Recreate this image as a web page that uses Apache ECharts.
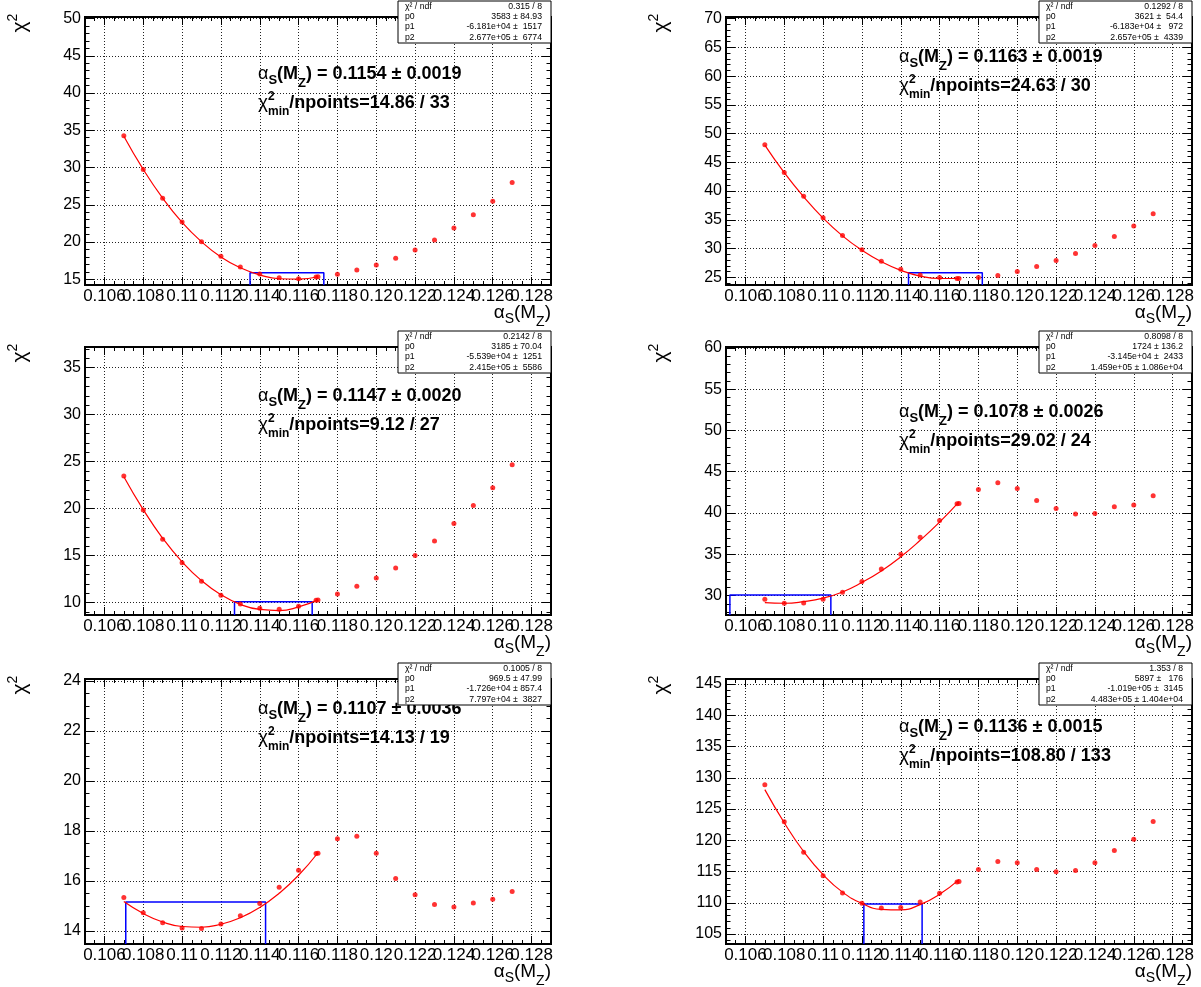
<!DOCTYPE html>
<html>
<head>
<meta charset="utf-8">
<title>chi2 scans vs alpha_s(M_Z)</title>
<script src="https://cdn.jsdelivr.net/npm/echarts@6.0.0/dist/echarts.min.js"></script>
<style>
  body { margin: 0; background: #fff; }
  #main { width: 1201px; height: 987px; }
</style>
</head>
<body>
<div id="main"></div>
<script>
// alpha_s(M_Z) scan points, two of them sit at 0.117
var alphaS = [0.107, 0.108, 0.109, 0.110, 0.111, 0.112, 0.113, 0.114, 0.115, 0.116, 0.1169,
  0.117, 0.118, 0.119, 0.120, 0.121, 0.122, 0.123, 0.124, 0.125, 0.126, 0.127];

// chi2 of each scan point, one array per pad
var chi2A = [34.27, 29.74, 25.89, 22.71, 20.06, 18.09, 16.66, 15.72, 15.22, 15.09, 15.31,
  15.36, 15.67, 16.25, 16.93, 17.82, 18.94, 20.29, 21.90, 23.65, 25.48, 27.99];
var chi2B = [48.08, 43.24, 39.10, 35.37, 32.28, 29.78, 27.80, 26.40, 25.41, 24.94, 24.77,
  24.77, 24.94, 25.29, 25.99, 26.86, 27.91, 29.14, 30.54, 32.11, 33.92, 36.07];
var chi2C = [23.49, 19.87, 16.75, 14.26, 12.27, 10.78, 9.86, 9.40, 9.29, 9.61, 10.25,
  10.28, 10.92, 11.74, 12.63, 13.69, 15.01, 16.57, 18.42, 20.33, 22.22, 24.67];
var chi2D = [29.56, 29.07, 29.11, 29.56, 30.40, 31.70, 33.23, 35.01, 37.07, 39.09, 41.12,
  41.16, 42.85, 43.66, 42.97, 41.52, 40.55, 39.90, 39.94, 40.75, 40.99, 42.09];
var chi2E = [15.33, 14.72, 14.32, 14.11, 14.09, 14.27, 14.60, 15.09, 15.74, 16.42, 17.09,
  17.10, 17.68, 17.78, 17.10, 16.09, 15.44, 15.05, 14.95, 15.11, 15.26, 15.57];
var chi2F = [128.89, 122.96, 118.08, 114.32, 111.57, 109.93, 109.18, 109.24, 110.14, 111.51, 113.32,
  113.42, 115.33, 116.60, 116.39, 115.33, 114.96, 115.17, 116.39, 118.35, 120.15, 123.01];

// parabola fits
var fitXA = [0.107, 0.108, 0.109, 0.110, 0.111, 0.112, 0.113, 0.114, 0.115, 0.116, 0.117];
var fitYA = [34.2, 29.75, 25.9, 22.65, 20.05, 18.0, 16.55, 15.6, 15.08, 15.02, 15.35];
var fitXB = [0.107, 0.108, 0.109, 0.110, 0.111, 0.112, 0.113, 0.114, 0.115, 0.116, 0.117];
var fitYB = [48.0, 43.2, 39.0, 35.3, 32.2, 29.7, 27.7, 26.2, 25.2, 24.78, 24.82];
var fitXC = [0.107, 0.108, 0.109, 0.110, 0.111, 0.112, 0.113, 0.114, 0.115, 0.116, 0.117];
var fitYC = [23.4, 19.9, 16.85, 14.35, 12.35, 10.85, 9.82, 9.28, 9.16, 9.55, 10.3];
var fitXD = [0.107, 0.108, 0.109, 0.110, 0.111, 0.112, 0.113, 0.114, 0.115, 0.116, 0.117];
var fitYD = [29.15, 29.08, 29.28, 29.7, 30.45, 31.6, 33.0, 34.7, 36.7, 38.9, 41.35];
var fitXE = [0.107, 0.108, 0.109, 0.110, 0.111, 0.112, 0.113, 0.114, 0.115, 0.116, 0.117];
var fitYE = [15.17, 14.69, 14.35, 14.17, 14.14, 14.26, 14.52, 14.93, 15.5, 16.22, 17.12];
var fitXF = [0.107, 0.108, 0.109, 0.110, 0.111, 0.112, 0.113, 0.114, 0.115, 0.116, 0.117];
var fitYF = [128.1, 122.8, 118.2, 114.5, 111.7, 109.9, 108.95, 108.87, 109.7, 111.35, 113.7];

// blue 1-sigma boxes (chi2min + 1)
var sigmaLo = [0.1135, 0.1144, 0.1127, 0.1052, 0.1071, 0.1121];
var sigmaHi = [0.1173, 0.1182, 0.1167, 0.1104, 0.1143, 0.1151];
var sigmaTop = [15.9, 25.8, 10.1, 30.08, 15.15, 109.8];

var resultText = ['0.1154 ± 0.0019', '0.1163 ± 0.0019', '0.1147 ± 0.0020',
  '0.1078 ± 0.0026', '0.1107 ± 0.0036', '0.1136 ± 0.0015'];
var npointsText = ['14.86 / 33', '24.63 / 30', '9.12 / 27', '29.02 / 24', '14.13 / 19', '108.80 / 133'];

var statNames = ['χ² / ndf', 'p0', 'p1', 'p2'];
var statValues = [
  ['0.315 / 8', '3583 ± 84.93', '-6.181e+04 ±  1517', '2.677e+05 ±  6774'],
  ['0.1292 / 8', '3621 ±  54.4', '-6.183e+04 ±   972', '2.657e+05 ±  4339'],
  ['0.2142 / 8', '3185 ± 70.04', '-5.539e+04 ±  1251', '2.415e+05 ±  5586'],
  ['0.8098 / 8', '1724 ± 136.2', '-3.145e+04 ±  2433', '1.459e+05 ± 1.086e+04'],
  ['0.1005 / 8', '969.5 ± 47.99', '-1.726e+04 ± 857.4', '7.797e+04 ±  3827'],
  ['1.353 / 8', '5897 ±   176', '-1.019e+05 ±  3145', '4.483e+05 ± 1.404e+04']
];

var xRange = [0.105, 0.129];
var yRanges = [[14.24, 50.2], [23.65, 70.3], [8.69, 37.2], [27.66, 60.1], [13.47, 24.07], [103.4, 145.8]];
var yStep = [5, 5, 5, 5, 2, 5];

var scans = [chi2A, chi2B, chi2C, chi2D, chi2E, chi2F];
var fitXs = [fitXA, fitXB, fitXC, fitXD, fitXE, fitXF];
var fitYs = [fitYA, fitYB, fitYC, fitYD, fitYE, fitYF];

// pad layout
var colLeft = [85, 726];
var rowTop = [17, 347, 679];
var rowHeight = [268, 268, 265];
var frameW = 466;
var noteDy = [57, 40, 49, 65, 30, 48];

var FONT = '"Liberation Sans", Arial, Helvetica, sans-serif';
var measureCtx = document.createElement('canvas').getContext('2d');

function fontStr(size, bold) {
  return (bold ? 'bold ' : '') + size + 'px ' + FONT;
}
function textWidth(t, size, bold) {
  measureCtx.font = fontStr(size, bold);
  return measureCtx.measureText(t).width;
}
function txt(x, y, t, size, bold, align) {
  return {
    type: 'text', x: x, y: y, z: 100,
    style: {
      text: t, font: fontStr(size, bold), fill: '#000',
      textAlign: align || 'left', textVerticalAlign: 'middle',
      align: align || 'left', verticalAlign: 'middle'
    }
  };
}
// pieces of text laid out left to right, sub/superscripts via dy
function segText(x, y, segs) {
  var out = [];
  var cx = x;
  segs.forEach(function (s) {
    out.push(txt(cx, y + (s.dy || 0), s.t, s.size, s.bold));
    if (!s.stack) cx += textWidth(s.t, s.size, s.bold);
  });
  return out;
}
function segWidth(segs) {
  var w = 0;
  segs.forEach(function (s) { if (!s.stack) w += textWidth(s.t, s.size, s.bold); });
  return w;
}

function multipleOf(v, step) {
  return Math.abs(v / step - Math.round(v / step)) < 1e-6;
}

var grids = [], xAxes = [], yAxes = [], seriesList = [], graphics = [];

for (var i = 0; i < 6; i++) {
  var col = i % 2, row = Math.floor(i / 2);
  var padLeft = colLeft[col], padTop = rowTop[row], padH = rowHeight[row];
  var yr = yRanges[i], step = yStep[i];

  grids.push({
    left: padLeft, top: padTop, width: frameW, height: padH,
    show: true, borderColor: '#000', borderWidth: 2, backgroundColor: '#fff',
    outerBoundsMode: 'none'
  });

  [true, false].forEach(function (bottom) {
    xAxes.push({
      type: 'value', gridIndex: i, position: bottom ? 'bottom' : 'top',
      min: xRange[0], max: xRange[1], splitNumber: 12,
      axisLine: { show: true, onZero: false, lineStyle: { color: '#000', width: 2 } },
      axisTick: { show: true, inside: true, length: 8, lineStyle: { color: '#000', width: 1 } },
      minorTick: { show: true, splitNumber: 4, length: 4, lineStyle: { color: '#000', width: 1 } },
      splitLine: { show: bottom, lineStyle: { color: '#222', width: 1, type: [1, 2] } },
      axisLabel: {
        show: bottom, showMinLabel: false, showMaxLabel: false, margin: 3,
        color: '#000', fontSize: 17, fontFamily: FONT,
        formatter: function (v) { return multipleOf(v, 0.002) ? String(+v.toFixed(3)) : ''; }
      }
    });
  });

  [true, false].forEach(function (leftSide) {
    var st = step;
    yAxes.push({
      type: 'value', gridIndex: i, position: leftSide ? 'left' : 'right',
      min: yr[0], max: yr[1], splitNumber: Math.round((yr[1] - yr[0]) / st),
      axisLine: { show: true, onZero: false, lineStyle: { color: '#000', width: 2 } },
      axisTick: { show: true, inside: true, length: 9, lineStyle: { color: '#000', width: 1 } },
      minorTick: { show: true, splitNumber: st === 2 ? 4 : 5, length: 4.5, lineStyle: { color: '#000', width: 1 } },
      splitLine: { show: leftSide, lineStyle: { color: '#222', width: 1, type: [1, 2] } },
      axisLabel: {
        show: leftSide, showMinLabel: false, showMaxLabel: false, margin: 4,
        color: '#000', fontSize: 16, fontFamily: FONT,
        formatter: function (v) { return multipleOf(v, st) ? String(Math.round(v)) : ''; }
      }
    });
  });

  var scan = scans[i];
  seriesList.push({
    type: 'line', xAxisIndex: 2 * i, yAxisIndex: 2 * i, silent: true, z: 2,
    data: [[sigmaLo[i], yr[0]], [sigmaLo[i], sigmaTop[i]], [sigmaHi[i], sigmaTop[i]], [sigmaHi[i], yr[0]]],
    symbol: 'none', lineStyle: { color: '#0000ff', width: 1.5 }
  });
  seriesList.push({
    type: 'line', xAxisIndex: 2 * i, yAxisIndex: 2 * i, silent: true, z: 3,
    data: fitXs[i].map(function (x, k) { return [x, fitYs[i][k]]; }),
    smooth: 0.5, symbol: 'none',
    lineStyle: { color: '#ff0000', width: 1.2 }
  });
  seriesList.push({
    type: 'scatter', xAxisIndex: 2 * i, yAxisIndex: 2 * i, silent: true, z: 4,
    data: alphaS.map(function (x, k) { return [x, scan[k]]; }),
    symbol: 'circle', symbolSize: 5, itemStyle: { color: '#ff0000' }
  });

  // fit result text
  var nx = padLeft + 173, ny = padTop + noteDy[i];
  graphics = graphics.concat(segText(nx, ny, [
    { t: 'α', size: 18, bold: false },
    { t: 'S', size: 13, bold: true, dy: 6 },
    { t: '(M', size: 18, bold: true },
    { t: 'Z', size: 13, bold: true, dy: 9 },
    { t: ') = ' + resultText[i], size: 18, bold: true }
  ]));
  graphics = graphics.concat(segText(nx, ny + 29, [
    { t: 'χ', size: 19, bold: false },
    { t: '2', size: 12, bold: true, dy: -6, stack: true },
    { t: 'min', size: 12, bold: true, dy: 9 },
    { t: '/npoints=' + npointsText[i], size: 18, bold: true }
  ]));

  // x axis title, right aligned to the frame
  var xt = [
    { t: 'α', size: 19 }, { t: 'S', size: 14, dy: 6 }, { t: '(M', size: 19 },
    { t: 'Z', size: 14, dy: 9 }, { t: ')', size: 19 }
  ];
  graphics = graphics.concat(segText(padLeft + frameW - segWidth(xt), padTop + padH + 28, xt));

  // y axis title, rotated
  var wChi = textWidth('χ', 21, false), w2 = textWidth('2', 14, false);
  graphics.push({
    type: 'group', x: padLeft - 65, y: padTop + 6, rotation: Math.PI / 2,
    children: [
      txt(-(wChi + w2) / 2, 0, 'χ', 21, false),
      txt(-(wChi + w2) / 2 + wChi, -7, '2', 14, false)
    ]
  });

  // stats box
  var bx = padLeft + frameW - 153, by = padTop - 16, bw = 153, bh = 42;
  graphics.push({
    type: 'rect', z: 100,
    shape: { x: bx, y: by, width: bw, height: bh },
    style: { fill: '#fff', stroke: '#000', lineWidth: 1 }
  });
  for (var r = 0; r < 4; r++) {
    var ry = by + 5.2 + r * 10.4;
    graphics.push(txt(bx + 7, ry, statNames[r], 8.7, false, 'left'));
    graphics.push(txt(bx + bw - 9, ry, statValues[i][r], 8.7, false, 'right'));
  }
}

var chart = echarts.init(document.getElementById('main'), null, { renderer: 'canvas' });
chart.setOption({
  backgroundColor: '#fff',
  animation: false,
  grid: grids,
  xAxis: xAxes,
  yAxis: yAxes,
  series: seriesList,
  graphic: { elements: graphics }
});
</script>
</body>
</html>
